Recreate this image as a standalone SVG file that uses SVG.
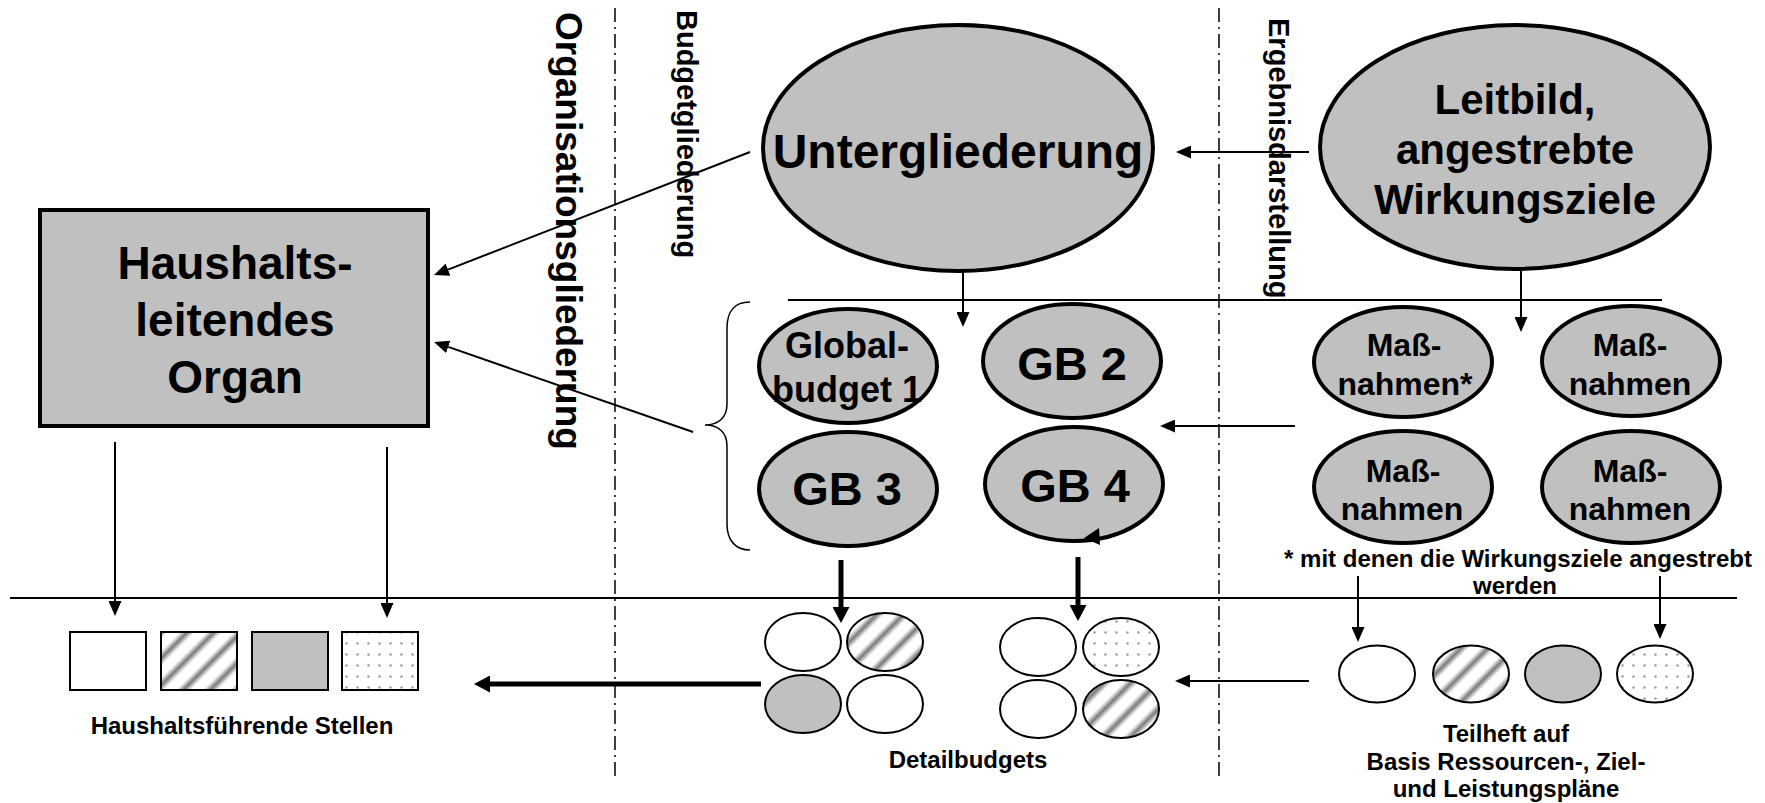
<svg xmlns="http://www.w3.org/2000/svg" width="1765" height="803" viewBox="0 0 1765 803">
<style>
text{font-family:"Liberation Sans",Arial,sans-serif;font-weight:bold;fill:#000}
.c{text-anchor:middle}
.big{stroke:#000;stroke-width:4;fill:#c0c0c0}
.sm{stroke:#000;stroke-width:2}
.ln{stroke:#000;stroke-width:2;fill:none}
.thick{stroke:#000;stroke-width:5;fill:none}
.dd{stroke:#000;stroke-width:1.5;stroke-dasharray:14 5 2 5;fill:none}
.gray{fill:#c0c0c0}
.white{fill:#fff}
.str{fill:url(#stripes)}
.dot{fill:url(#dots)}
</style>
<defs>
<linearGradient id="sg" x1="0" y1="0" x2="1" y2="0">
<stop offset="0" stop-color="#fff"/><stop offset="0.22" stop-color="#fff"/><stop offset="0.5" stop-color="#7a7a7a"/><stop offset="0.78" stop-color="#fff"/><stop offset="1" stop-color="#fff"/>
</linearGradient>
<pattern id="stripes" patternUnits="userSpaceOnUse" width="19" height="19" patternTransform="rotate(45)">
<rect width="19" height="19" fill="url(#sg)"/>
</pattern>
<pattern id="dots" patternUnits="userSpaceOnUse" width="11" height="11">
<rect width="11" height="11" fill="#fff"/><circle cx="5.5" cy="5.5" r="1.2" fill="#999"/>
</pattern>
<marker id="ah" markerUnits="userSpaceOnUse" markerWidth="15" markerHeight="13" refX="0" refY="6.5" orient="auto">
<path d="M0,0 L15,6.5 L0,13 z" fill="#000"/>
</marker>
<marker id="ahT" markerUnits="userSpaceOnUse" markerWidth="16" markerHeight="17" refX="0" refY="8.5" orient="auto">
<path d="M0,0 L16,8.5 L0,17 z" fill="#000"/>
</marker>
</defs>
<rect width="1765" height="803" fill="#fff"/>

<g id="separators">
<line class="dd" x1="615" y1="8" x2="615" y2="778"/>
<line class="dd" x1="1219" y1="8" x2="1219" y2="778"/>
<line class="ln" x1="788" y1="300" x2="1662" y2="300" style="stroke-width:1.8"/>
<line class="ln" x1="10" y1="598" x2="1737" y2="598"/>
</g>

<g id="labels">
<text transform="translate(556,12) rotate(90)" font-size="37">Organisationsgliederung</text>
<text transform="translate(677,10) rotate(90)" font-size="29">Budgetgliederung</text>
<text transform="translate(1269,18) rotate(90)" font-size="29">Ergebnisdarstellung</text>
</g>

<g id="node-organ">
<rect x="40" y="210" width="388" height="216" class="big"/>
<text class="c" font-size="46" x="235" y="279">Haushalts-</text>
<text class="c" font-size="46" x="235" y="336">leitendes</text>
<text class="c" font-size="46" x="235" y="393">Organ</text>
</g>

<g id="node-untergliederung">
<ellipse cx="958" cy="148" rx="195" ry="123" class="big"/>
<text class="c" font-size="48" x="958" y="168">Untergliederung</text>
</g>

<g id="node-leitbild">
<ellipse cx="1515" cy="147" rx="195" ry="122" class="big"/>
<text class="c" font-size="42" x="1515" y="114">Leitbild,</text>
<text class="c" font-size="42" x="1515" y="164">angestrebte</text>
<text class="c" font-size="42" x="1515" y="214">Wirkungsziele</text>
</g>

<g id="node-gb1">
<ellipse cx="848" cy="366" rx="89" ry="57" class="big"/>
<text class="c" font-size="36" x="847" y="358">Global-</text>
<text class="c" font-size="36" x="847" y="402">budget 1</text>
</g>
<g id="node-gb2">
<ellipse cx="1072" cy="361" rx="89" ry="57" class="big"/>
<text class="c" font-size="47" x="1072" y="380">GB 2</text>
</g>
<g id="node-gb3">
<ellipse cx="848" cy="489" rx="89" ry="57" class="big"/>
<text class="c" font-size="47" x="847" y="505">GB 3</text>
</g>
<g id="node-gb4">
<ellipse cx="1074" cy="484" rx="89" ry="57" class="big"/>
<text class="c" font-size="47" x="1075" y="502">GB 4</text>
</g>

<g id="node-massnahmen1">
<ellipse cx="1403" cy="362" rx="89" ry="55" class="big"/>
<text class="c" font-size="32" x="1404" y="356">Maß-</text>
<text class="c" font-size="32" x="1405" y="395">nahmen*</text>
</g>
<g id="node-massnahmen2">
<ellipse cx="1631" cy="361" rx="89" ry="55" class="big"/>
<text class="c" font-size="32" x="1630" y="356">Maß-</text>
<text class="c" font-size="32" x="1630" y="395">nahmen</text>
</g>
<g id="node-massnahmen3">
<ellipse cx="1403" cy="487" rx="89" ry="56" class="big"/>
<text class="c" font-size="32" x="1403" y="482">Maß-</text>
<text class="c" font-size="32" x="1402" y="520">nahmen</text>
</g>
<g id="node-massnahmen4">
<ellipse cx="1631" cy="487" rx="89" ry="56" class="big"/>
<text class="c" font-size="32" x="1630" y="482">Maß-</text>
<text class="c" font-size="32" x="1630" y="520">nahmen</text>
</g>

<g id="footnote">
<text class="c" font-size="24" x="1518" y="567">* mit denen die Wirkungsziele angestrebt</text>
<text class="c" font-size="24" x="1515" y="594">werden</text>
</g>

<g id="node-stellen">
<rect x="70" y="632" width="76" height="58" class="sm white"/>
<rect x="161" y="632" width="76" height="58" class="sm str"/>
<rect x="252" y="632" width="76" height="58" class="sm gray"/>
<rect x="342" y="632" width="76" height="58" class="sm dot"/>
<text class="c" font-size="24" x="242" y="734">Haushaltsführende Stellen</text>
</g>

<g id="node-detailbudgets">
<ellipse cx="803" cy="642" rx="38" ry="29" class="sm white"/>
<ellipse cx="885" cy="642" rx="38" ry="29" class="sm str"/>
<ellipse cx="803" cy="704" rx="38" ry="29" class="sm gray"/>
<ellipse cx="885" cy="704" rx="38" ry="29" class="sm white"/>
<ellipse cx="1038" cy="647" rx="38" ry="29" class="sm white"/>
<ellipse cx="1121" cy="647" rx="38" ry="29" class="sm dot"/>
<ellipse cx="1038" cy="709" rx="38" ry="29" class="sm white"/>
<ellipse cx="1121" cy="709" rx="38" ry="29" class="sm str"/>
<text class="c" font-size="24" x="968" y="768">Detailbudgets</text>
</g>

<g id="node-teilheft">
<ellipse cx="1377" cy="674" rx="38" ry="28.5" class="sm white"/>
<ellipse cx="1471" cy="674" rx="38" ry="28.5" class="sm str"/>
<ellipse cx="1563" cy="674" rx="38" ry="28.5" class="sm gray"/>
<ellipse cx="1655" cy="674" rx="38" ry="28.5" class="sm dot"/>
<text class="c" font-size="24" x="1506" y="742">Teilheft auf</text>
<text class="c" font-size="24" x="1506" y="770">Basis Ressourcen-, Ziel-</text>
<text class="c" font-size="24" x="1506" y="797">und Leistungspläne</text>
</g>

<g id="connectors">
<path class="ln" style="stroke-width:1.5" d="M750,302 C736,302 727,310 727,328 L727,404 C727,418 718,425 705,425 C718,425 727,432 727,446 L727,524 C727,541 736,550 750,550"/>
<line class="ln" x1="750" y1="152" x2="448" y2="269.6" marker-end="url(#ah)"/>
<line class="ln" x1="693" y1="432" x2="448.2" y2="346.9" marker-end="url(#ah)"/>
<line class="ln" x1="1309" y1="152" x2="1191" y2="152" marker-end="url(#ah)"/>
<line class="ln" x1="963" y1="272" x2="963" y2="312" marker-end="url(#ah)"/>
<line class="ln" x1="1521" y1="270" x2="1521" y2="317" marker-end="url(#ah)"/>
<line class="ln" x1="1295" y1="426" x2="1175" y2="426" marker-end="url(#ah)"/>
<line class="ln" x1="115" y1="442" x2="115" y2="601" marker-end="url(#ah)"/>
<line class="ln" x1="387" y1="447" x2="387" y2="603" marker-end="url(#ah)"/>
<line class="ln" x1="1358" y1="576" x2="1358" y2="627" marker-end="url(#ah)"/>
<line class="ln" x1="1660" y1="576" x2="1660" y2="624" marker-end="url(#ah)"/>
<line class="ln" x1="1309" y1="681" x2="1190" y2="681" marker-end="url(#ah)"/>
<line class="thick" x1="761" y1="684" x2="490" y2="684" marker-end="url(#ahT)"/>
<line class="thick" x1="841" y1="560" x2="841" y2="607" marker-end="url(#ahT)"/>
<line class="thick" x1="1078" y1="557" x2="1078" y2="605" marker-end="url(#ahT)"/>
<polygon points="1084,538 1099,528 1100,545" fill="#000"/>
</g>
</svg>
